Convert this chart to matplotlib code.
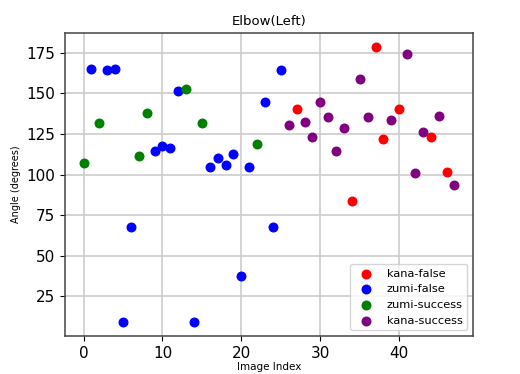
import numpy as np
import matplotlib
matplotlib.use('Agg')
import matplotlib.pyplot as plt

# image index / angle per group
kana_false_x = [27, 34, 37, 38, 40, 44, 46]
kana_false_y = [140.5, 83.6, 178.8, 122.2, 140.5, 123.2, 101.9]

zumi_false_x = [1, 3, 4, 5, 6, 9, 10, 11, 12, 14, 16, 17, 18, 19, 20, 21, 23, 24, 25]
zumi_false_y = [165.1, 164.7, 165.0, 9.1, 67.6, 114.4, 117.8, 116.7, 151.6, 9.0,
                104.4, 110.4, 106.0, 113.0, 37.5, 104.5, 144.8, 67.6, 164.6]

zumi_success_x = [0, 2, 7, 8, 13, 15, 22]
zumi_success_y = [107.3, 131.6, 111.2, 138.1, 153.0, 131.9, 118.9]

kana_success_x = [26, 28, 29, 30, 31, 32, 33, 35, 36, 39, 41, 42, 43, 45, 47]
kana_success_y = [130.4, 132.5, 123.0, 144.6, 135.6, 114.4, 128.6, 159.2, 135.6,
                  133.4, 174.6, 101.1, 126.3, 136.2, 93.3]

fig = plt.figure(figsize=(5.2, 3.74), dpi=100)
ax = fig.add_axes([0.125, 0.1016, 0.7846, 0.8102])

ax.scatter(kana_false_x, kana_false_y, c='red', s=38, label='kana-false', zorder=3)
ax.scatter(zumi_false_x, zumi_false_y, c='blue', s=38, label='zumi-false', zorder=3)
ax.scatter(zumi_success_x, zumi_success_y, c='green', s=38, label='zumi-success', zorder=3)
ax.scatter(kana_success_x, kana_success_y, c='purple', s=38, label='kana-success', zorder=3)

ax.set_title('Elbow(Left)', fontsize=9.5)
ax.set_xlabel('Image Index', fontsize=7.5, labelpad=1)
ax.set_ylabel('Angle (degrees)', fontsize=7)
ax.tick_params(labelsize=11)
ax.grid(True, color='#cccccc', linewidth=1.2)
ax.set_axisbelow(True)
for s in ax.spines.values():
    s.set_color('#444444')
    s.set_linewidth(1.1)
ax.legend(loc='lower right', fontsize=8.2)

fig.savefig('out.png', dpi=100)
